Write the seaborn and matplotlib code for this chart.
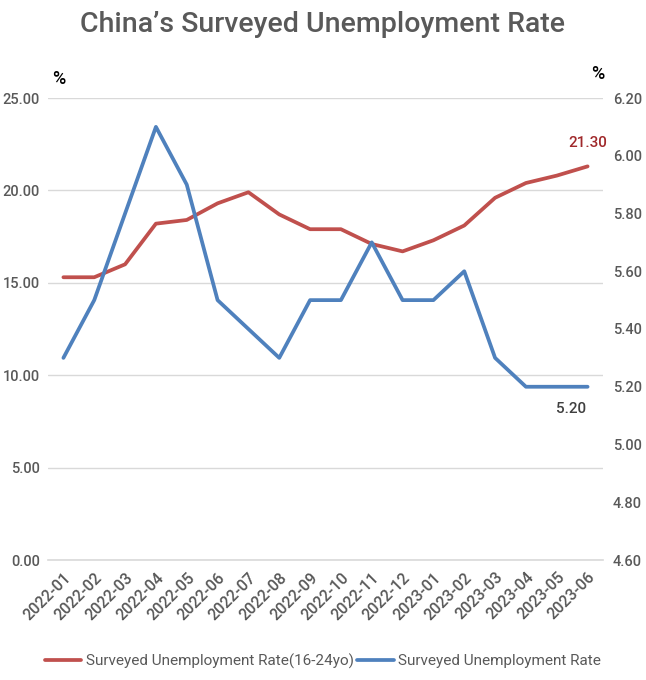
import matplotlib
matplotlib.use("Agg")
import matplotlib.pyplot as plt
import seaborn as sns
import pandas as pd
import numpy as np
from matplotlib.ticker import FixedLocator, FormatStrFormatter

months = ["2022-01", "2022-02", "2022-03", "2022-04", "2022-05", "2022-06",
          "2022-07", "2022-08", "2022-09", "2022-10", "2022-11", "2022-12",
          "2023-01", "2023-02", "2023-03", "2023-04", "2023-05", "2023-06"]
youth_rate = [15.3, 15.3, 16.0, 18.2, 18.4, 19.3, 19.9, 18.7, 17.9, 17.9,
              17.1, 16.7, 17.3, 18.1, 19.6, 20.4, 20.8, 21.3]
overall_rate = [5.3, 5.5, 5.8, 6.1, 5.9, 5.5, 5.4, 5.3, 5.5, 5.5,
                5.7, 5.5, 5.5, 5.6, 5.3, 5.2, 5.2, 5.2]
left_ticks = [0, 5, 10, 15, 20, 25]
right_ticks = [4.6, 4.8, 5.0, 5.2, 5.4, 5.6, 5.8, 6.0, 6.2]
youth_name = "Surveyed Unemployment Rate(16-24yo)"
overall_name = "Surveyed Unemployment Rate"

sns.set_theme(style="white")
plt.rcParams['font.family'] = ['Roboto', 'DejaVu Sans']

RED = "#C0504D"
BLUE = "#4F81BD"
GRAY = "#595959"

df = pd.DataFrame({"idx": np.arange(len(months)), "youth": youth_rate, "overall": overall_rate})

fig = plt.figure(figsize=(6.46, 6.8), dpi=100)
ax = fig.add_axes([48/646, 1-560/680, (603-48)/646, (560-98)/680])
ax2 = ax.twinx()

sns.lineplot(data=df, x="idx", y="youth", ax=ax, color=RED, linewidth=2.7,
             label=youth_name, legend=False)
sns.lineplot(data=df, x="idx", y="overall", ax=ax2, color=BLUE, linewidth=2.7,
             label=overall_name, legend=False)

ax.set_xlim(-0.5, len(months) - 0.5)
ax.set_ylim(0, 25)
ax2.set_ylim(4.6, 6.2)
ax.yaxis.set_major_locator(FixedLocator(left_ticks))
ax2.yaxis.set_major_locator(FixedLocator(right_ticks))
ax.yaxis.set_major_formatter(FormatStrFormatter("%.2f"))
ax2.yaxis.set_major_formatter(FormatStrFormatter("%.2f"))

ax.set_xticks(np.arange(len(months)))
ax.set_xticklabels(months, rotation=45, ha="right", rotation_mode="anchor",
                   fontsize=11.5, color=GRAY, fontweight="medium")
ax.set_xticks(np.arange(len(months) + 1) - 0.5, minor=True)
ax.tick_params(axis="x", which="major", length=0, pad=7)
ax.tick_params(axis="x", which="minor", length=5, width=1, color="#D9D9D9", direction="out")

ax.tick_params(axis="y", length=0, labelsize=10.5, labelcolor=GRAY, pad=6)
ax2.tick_params(axis="y", length=0, labelsize=10.5, labelcolor=GRAY, pad=7)
for lbl in ax.get_yticklabels() + ax2.get_yticklabels():
    lbl.set_fontweight("medium")

ax.grid(axis="y", color="#D9D9D9", linewidth=1)
ax.set_axisbelow(True)
for a in (ax, ax2):
    for s in ["top", "left", "right", "bottom"]:
        a.spines[s].set_visible(False)
    a.set_xlabel("")
    a.set_ylabel("")
ax.spines["bottom"].set_visible(True)
ax.spines["bottom"].set_color("#D9D9D9")
ax.spines["bottom"].set_linewidth(1.2)

fig.text(0.5, 1-25/680, "China\u2019s Surveyed Unemployment Rate", ha="center", va="center",
         fontsize=20.5, color=GRAY, fontweight="medium")
fig.text(59/646, 1-79/680, "%", ha="center", va="center", fontsize=13, color="black",
         fontweight="medium")
fig.text(598/646, 1-74/680, "%", ha="center", va="center", fontsize=13, color="black",
         fontweight="medium")

ax.annotate(f"{youth_rate[-1]:.2f}", xy=(len(months) - 1, youth_rate[-1]),
            xytext=(0, 12), textcoords="offset points", ha="center", va="bottom",
            fontsize=11, color="#A0292B", fontweight="medium")
ax2.annotate(f"{overall_rate[-1]:.2f}", xy=(len(months) - 1, overall_rate[-1]),
             xytext=(-12, -11), textcoords="offset points", ha="center", va="top",
             fontsize=11, color="#404040", fontweight="medium")

h1, l1 = ax.get_legend_handles_labels()
h2, l2 = ax2.get_legend_handles_labels()
fig.legend(h1 + h2, l1 + l2, loc="center", bbox_to_anchor=(0.5, 1-661/680), ncol=2,
           frameon=False, fontsize=11, labelcolor=GRAY, handlelength=2.4,
           handletextpad=0.3, columnspacing=0.2)

fig.savefig("out.png", dpi=100)
